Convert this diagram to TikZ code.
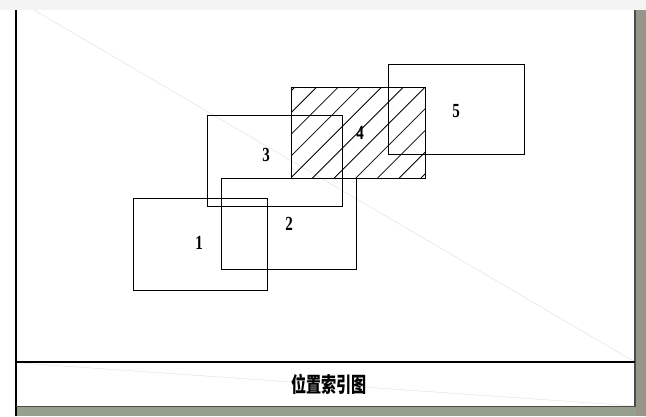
\documentclass[tikz,border=0pt]{standalone}
\usepackage{fontspec}
\usepackage{graphicx}
\setmainfont{Liberation Serif}
\newfontfamily\cjk{Noto Sans CJK SC}
\definecolor{bar_top}{RGB}{244,244,244}
\definecolor{edge_right}{RGB}{152,150,138}
\definecolor{edge_bottom}{RGB}{150,158,140}
\tikzset{
  sheet/.style={draw=black,line width=1pt},
  num/.style={inner sep=0pt,font=\bfseries\fontsize{20}{20}\selectfont},
}
\newcommand{\narrow}[1]{\scalebox{0.75}[1]{#1}}

\begin{document}
\begin{tikzpicture}[x=1pt,y=-1pt]
\useasboundingbox (0,0) rectangle (646,416);
% screen edges
\fill[white] (0,0) rectangle (646,416);
\fill[bar_top] (0,0) rectangle (646,10);
\fill[edge_right] (636,10) rectangle (646,416);
\fill[edge_bottom] (16,407) rectangle (636,416);
% faint traces
\draw[gray!25,line width=0.4pt] (34,10) -- (635,362);
\draw[gray!25,line width=0.4pt] (20,363) -- (635,406);

% frame
\coordinate (frame_tl) at (16,10);
\coordinate (frame_bl) at (16,416);
\coordinate (frame_tr) at (635,10);
\coordinate (frame_br) at (635,407);
\coordinate (title_l) at (16,362);
\coordinate (title_r) at (635,362);
\coordinate (foot_l) at (16,406.5);
\coordinate (foot_r) at (636,406.5);
\draw[line width=2pt] (frame_tl) -- (frame_bl);
\draw[line width=1.5pt,black!70] (frame_tr) -- (frame_br);
\draw[line width=1.3pt] (title_l) -- (title_r);
\draw[line width=1.2pt,black!70] (foot_l) -- (foot_r);

% sheet 4, hatched
\coordinate (s4_a) at (291,178);
\coordinate (s4_b) at (425,87);
\begin{scope}
\clip (s4_a) rectangle (s4_b);
\foreach \k in {0,...,10}
  \draw[line width=0.8pt] (204+\k*21.7,178) -- ++(91,-91);
\end{scope}
\draw[sheet] (s4_a) rectangle (s4_b);

% other sheets
\coordinate (s1_a) at (133,290);
\coordinate (s1_b) at (267,198);
\coordinate (s2_a) at (221,269);
\coordinate (s2_b) at (356,178);
\coordinate (s3_a) at (207,206);
\coordinate (s3_b) at (342,115);
\coordinate (s5_a) at (388,154);
\coordinate (s5_b) at (524,64);
\draw[sheet] (s1_a) rectangle (s1_b);
\draw[sheet] (s2_a) rectangle (s2_b);
\draw[sheet] (s3_a) rectangle (s3_b);
\draw[sheet] (s5_a) rectangle (s5_b);

\node[num] (lbl_1) at (199,243) {\narrow{1}};
\node[num] (lbl_2) at (289,224) {\narrow{2}};
\node[num] (lbl_3) at (266,155) {\narrow{3}};
\node[num] (lbl_4) at (360,133) {\narrow{4}};
\node[num] (lbl_5) at (456,111) {\narrow{5}};

\node[inner sep=0pt,font=\cjk\bfseries\fontsize{21}{21}\selectfont] (title) at (329,384) {\scalebox{0.72}[1]{位置索引图}};
\end{tikzpicture}
\end{document}
